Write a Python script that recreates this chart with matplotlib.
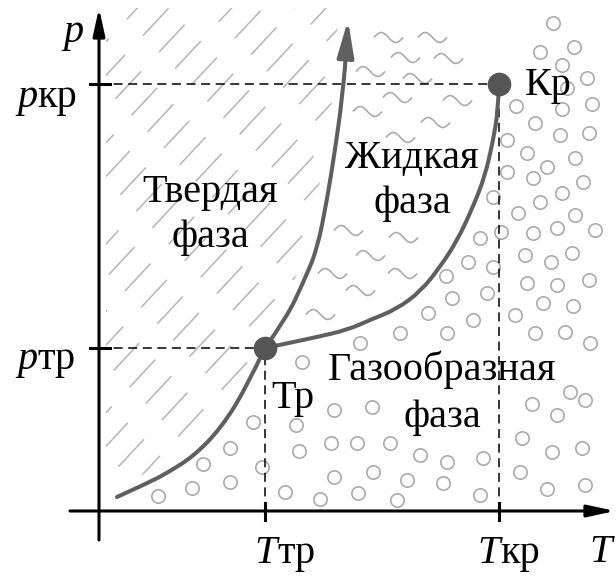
import numpy as np
import matplotlib.pyplot as plt
from matplotlib.path import Path
from matplotlib.patches import PathPatch, Polygon
from matplotlib.transforms import offset_copy

plt.rcParams['font.family'] = ['Liberation Serif', 'DejaVu Serif']
plt.rcParams['lines.scale_dashes'] = False

# schematic units: T to the right, p upwards
T_tr, p_tr = 166, 163
T_kr, p_kr = 400, 427
T_axis_end, p_axis_end = 516, 503

# phase boundaries
subl_T = [18, 51, 68, 95, 122, 146, 166]
subl_p = [14, 29, 38, 55, 83, 121, 163]
melt_T = [166, 188, 204, 218, 228, 236, 243, 246, 249]
melt_p = [163, 194, 228, 261, 311, 361, 411, 444, 491]
vap_T = [166, 185, 218, 248, 271, 298, 322, 341, 358, 374, 386, 394, 399, 400]
vap_p = [163, 167, 174, 181, 191, 202, 220, 244, 270, 304, 335, 370, 400, 427]

# gas phase markers (circles)
gas_T = [59, 93, 104, 131, 131, 154, 163, 186, 197, 200, 203, 221, 232, 235, 235,
         258, 261, 273, 274, 259, 291, 298, 301, 308, 321, 329, 344, 348, 348, 353,
         374, 388, 381, 384, 347, 369, 394, 381, 402, 394, 408, 408, 417, 416, 421,
         423, 428, 428, 426, 433, 434, 434, 436, 436, 441, 441, 444, 448, 448, 452,
         453, 454, 458, 458, 458, 461, 463, 463, 463, 466, 471, 473, 474, 475, 476,
         476, 483, 484, 486, 486, 488, 490, 490, 491, 493, 496, 419, 468]
gas_p = [15, 23, 47, 63, 29, 89, 44, 19, 86, 60, 149, 12, 68, 34, 101,
         68, 168, 104, 39, 18, 68, 11, 178, 31, 56, 198, 28, 49, 178, 213,
         191, 218, 16, 53, 235, 249, 244, 273, 279, 314, 339, 371, 405, 196, 39,
         73, 228, 358, 256, 107, 333, 278, 388, 178, 459, 309, 208, 344, 22, 249,
         59, 488, 96, 226, 283, 376, 446, 402, 318, 179, 119, 258, 205, 464, 353,
         296, 63, 329, 111, 26, 433, 378, 231, 168, 407, 281, 298, 423]

# liquid phase markers (waves)
liq_T = [289, 333, 306, 349, 271, 318, 298, 358, 268, 336, 301,
         249, 304, 271, 233, 303, 261, 221]
liq_p = [474, 474, 454, 453, 440, 433, 414, 411, 400, 389, 374,
         281, 274, 256, 238, 238, 221, 197]

phase_labels = [("Твердая", 111, 309), ("фаза", 111, 264),
                ("Жидкая", 313, 343), ("фаза", 313, 298),
                ("Газообразная", 343, 131), ("фаза", 343, 84)]

FS = 29
curve_c = '#5f5f5f'
mark_c = '#ababab'


def smooth_path(xs, ys):
    pts = np.column_stack([xs, ys]).astype(float)
    verts, codes = [pts[0]], [Path.MOVETO]
    n = len(pts)
    for i in range(1, n - 1):
        end = pts[i + 1] if i == n - 2 else (pts[i] + pts[i + 1]) / 2
        verts += [pts[i], end]
        codes += [Path.CURVE3, Path.CURVE3]
    return Path(verts, codes)


fig = plt.figure(figsize=(6.16, 5.80), dpi=100)
ax = fig.add_axes([0, 0, 1, 1])
ax.set_xlim(-99, 517)
ax.set_ylim(-69, 511)
ax.axis('off')

# hatching of the solid region, clipped along the boundaries
clip = ([(7, 503), (melt_T[-1] - 12, 503)]
        + [(t - 10, p) for t, p in zip(melt_T[::-1], melt_p[::-1])]
        + [(t - 6, p + 8) for t, p in zip(subl_T[::-1], subl_p[::-1])]
        + [(7, subl_p[0] + 8)])
clip_patch = Polygon(clip, closed=True, fc='none', ec='none')
ax.add_patch(clip_patch)
slope = np.tan(np.deg2rad(47))
step = 23 / np.cos(np.deg2rad(47))
for i, c in enumerate(np.arange(-280, 510, step)):
    tt = np.array([-10, 270])
    ln, = ax.plot(tt, slope * tt + c, color='#b5b5b5', lw=1.1,
                  ls=((i * 17) % 46, (27, 19)), zorder=1)
    ln.set_clip_path(clip_patch)

# gas circles and liquid waves
ax.plot(gas_T, gas_p, ls='none', marker='o', ms=9.6, mfc='none',
        mec=mark_c, mew=1.2, zorder=1)
tw = np.linspace(0, 1, 40)
wave = Path(np.column_stack([tw - 0.5, 0.17 * np.sin(2 * np.pi * tw)]))
ax.plot(liq_T, liq_p, ls='none', marker=wave, ms=21, mfc='none',
        mec=mark_c, mew=1.2, zorder=1)

# dashed guides
dash = (0, (6.5, 4))
ax.plot([0, T_kr], [p_kr, p_kr], color='k', lw=1.1, ls=dash, zorder=2)
ax.plot([0, T_tr], [p_tr, p_tr], color='k', lw=1.1, ls=dash, zorder=2)
ax.plot([T_tr, T_tr], [0, p_tr], color='k', lw=1.1, ls=dash, zorder=2)
ax.plot([T_kr, T_kr], [0, p_kr], color='k', lw=1.1, ls=dash, zorder=2)

# axes with arrows and ticks
axis_arrow = dict(arrowstyle='-|>,head_length=1.65,head_width=0.36',
                  mutation_scale=10, lw=2.2, color='k', shrinkA=0, shrinkB=0)
ax.annotate('', xy=(T_axis_end, 0), xytext=(-29, 0), arrowprops=axis_arrow, zorder=3)
ax.annotate('', xy=(0, p_axis_end), xytext=(0, -29), arrowprops=axis_arrow, zorder=3)
for p in (p_kr, p_tr):
    ax.plot([-9, 11], [p, p], color='k', lw=2.2, zorder=3)
for t in (T_tr, T_kr):
    ax.plot([t, t], [-9, 8], color='k', lw=2.2, zorder=3)

# phase boundaries
ax.add_patch(PathPatch(smooth_path(subl_T, subl_p), fc='none', ec=curve_c,
                       lw=2.9, capstyle='round', zorder=4))
ax.add_patch(PathPatch(smooth_path(melt_T[:-1], melt_p[:-1]), fc='none', ec=curve_c,
                       lw=2.9, capstyle='round', zorder=4))
ax.add_patch(PathPatch(smooth_path(vap_T, vap_p), fc='none', ec=curve_c,
                       lw=2.9, capstyle='round', zorder=4))
ax.annotate('', xy=(melt_T[-1], melt_p[-1]), xytext=(melt_T[-2], melt_p[-2]),
            arrowprops=dict(arrowstyle='-|>,head_length=2.2,head_width=0.5',
                            mutation_scale=10, lw=2.9, color=curve_c,
                            shrinkA=0, shrinkB=0), zorder=4)
ax.plot([T_tr, T_kr], [p_tr, p_kr], ls='none', marker='o', ms=16,
        color='#555555', zorder=5)

# text
for txt, t, p in phase_labels:
    ax.text(t, p, txt, ha='center', va='baseline', fontsize=FS, zorder=6)
ax.text(426, 416, 'Кр', ha='left', va='baseline', fontsize=FS, zorder=6)
ax.text(172, 103, 'Тр', ha='left', va='baseline', fontsize=FS, zorder=6)


def axis_label(x, y, sym, sub, dx, dy):
    tr = offset_copy(ax.transData, fig=fig, x=dx, y=dy, units='dots')
    ax.text(x, y, sym, transform=tr, ha='right', va='baseline',
            fontsize=FS, style='italic', zorder=6)
    if sub:
        ax.text(x, y, sub, transform=tr, ha='left', va='baseline',
                fontsize=FS, zorder=6)


axis_label(0, p_kr, 'p', 'кр', -62, -23)
axis_label(0, p_tr, 'p', 'тр', -62, -21)
axis_label(T_tr, 0, 'T', 'тр', 12, -52)
axis_label(T_kr, 0, 'T', 'кр', 1, -52)
axis_label(T_axis_end, 0, 'T', '', -3, -51)
axis_label(0, p_axis_end, 'p', '', -16, -34)

fig.savefig('out.png', dpi=100)
